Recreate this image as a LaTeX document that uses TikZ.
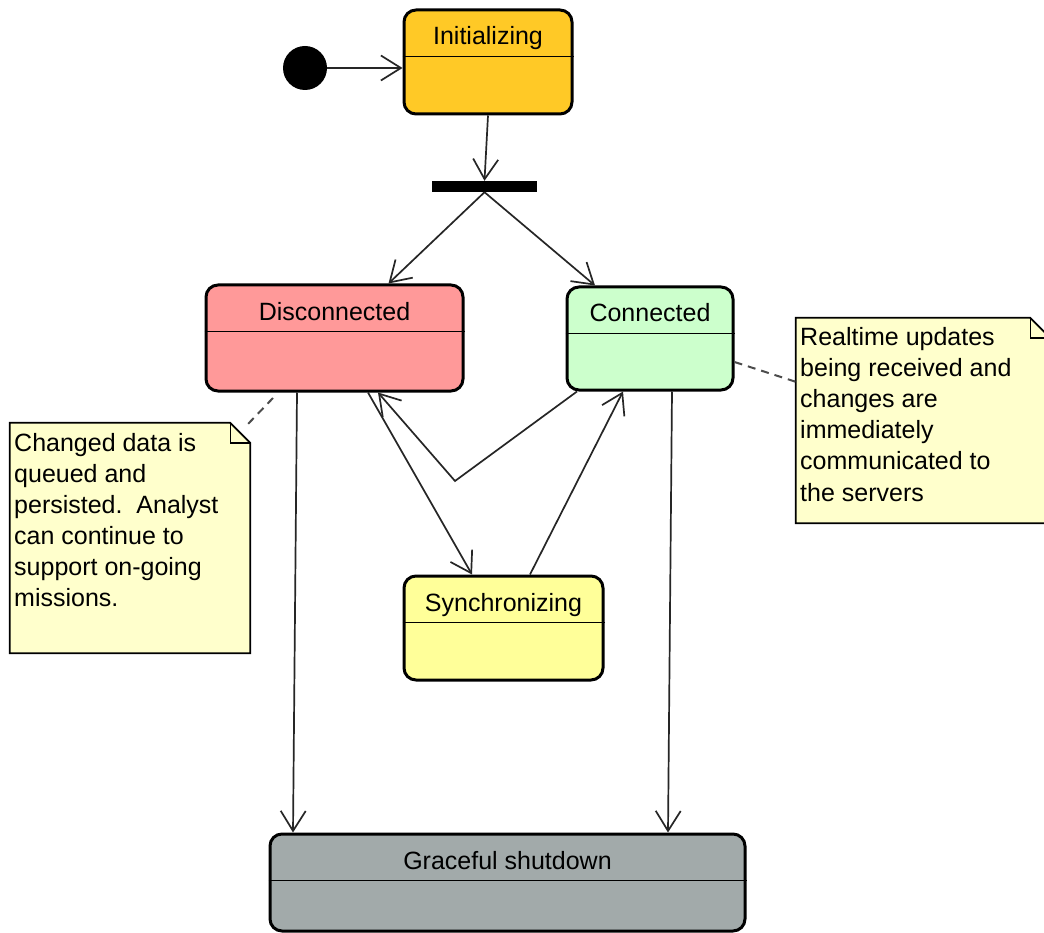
\documentclass[tikz,border=0pt]{standalone}
\usepackage{fontspec}
\setmainfont{Liberation Sans}
\usetikzlibrary{arrows.meta}
\definecolor{initc}{RGB}{255,201,38}
\definecolor{discc}{RGB}{255,153,153}
\definecolor{connc}{RGB}{204,255,204}
\definecolor{syncc}{RGB}{255,255,153}
\definecolor{gracec}{RGB}{162,170,170}
\definecolor{notec}{RGB}{255,255,204}
\begin{document}
\begin{tikzpicture}[x=1pt,y=-1pt,
  state/.style={draw=black, line width=3pt, rounded corners=12pt, inner sep=0pt},
  divider/.style={draw=black, line width=1.5pt},
  title/.style={anchor=base, inner sep=0pt, font=\fontsize{25}{31}\selectfont},
  tr/.style={draw=black!85, line width=1.7pt, -{Straight Barb[length=20pt,width=25pt]}},
  notebox/.style={draw=black, line width=1.7pt, fill=notec},
  notetext/.style={anchor=base west, inner sep=0pt, font=\fontsize{25}{31}\selectfont},
  link/.style={draw=black!70, line width=2pt, dash pattern=on 8pt off 6pt}]
\useasboundingbox[fill=white] (0,0) rectangle (1044,933);

% states
\node[state, fill=initc, minimum width=168pt, minimum height=104pt] (init) at (488,62) {};
\node[state, fill=discc, minimum width=257pt, minimum height=106pt] (disc) at (334.5,338) {};
\node[state, fill=connc, minimum width=166pt, minimum height=103pt] (conn) at (650,338.5) {};
\node[state, fill=syncc, minimum width=199pt, minimum height=104pt] (sync) at (503.5,628) {};
\node[state, fill=gracec, minimum width=475pt, minimum height=97pt] (grace) at (507.5,882.5) {};

\foreach \n in {init,disc,conn,sync,grace}
  \draw[divider] ([yshift=-48pt]\n.north west) -- ([yshift=-48pt]\n.north east);

\node[title] (initT) at ([yshift=-36.5pt]init.north) {Initializing};
\node[title] (discT) at ([yshift=-36.5pt]disc.north) {Disconnected};
\node[title] (connT) at ([yshift=-36.5pt]conn.north) {Connected};
\node[title] (syncT) at ([yshift=-36.5pt]sync.north) {Synchronizing};
\node[title] (graceT) at ([yshift=-36.5pt]grace.north) {Graceful shutdown};

% pseudo states
\node[circle, fill=black, minimum size=44pt, inner sep=0pt] (start) at (305,68) {};
\node[fill=black, minimum width=105pt, minimum height=11pt, inner sep=0pt] (fork) at (484.5,186.5) {};

% transitions
\draw[tr] (start.east) -- (start.east -| init.west);
\draw[tr] (init.south) -- (fork.north);
\draw[tr] (fork.south) -- ([xshift=54pt]disc.north);
\draw[tr] (fork.south) -- ([xshift=-55pt]conn.north);
\draw[tr] ([xshift=-37.5pt]disc.south) -- ([xshift=-214.5pt]grace.north);
\draw[tr] ([xshift=22pt]conn.south) -- ([xshift=160.5pt]grace.north);
\draw[tr] ([xshift=33.5pt]disc.south) -- ([xshift=-31.5pt]sync.north);
\draw[tr] ([xshift=26.5pt]sync.north) -- ([xshift=-27pt]conn.south);
\coordinate (bend) at (455,481);
\draw[tr] ([xshift=-73pt]conn.south) -- (bend) -- ([xshift=43.5pt]disc.south);

% notes
\node[minimum width=240pt, minimum height=230pt, inner sep=0pt] (noteL) at (130,538) {};
\path[notebox] (noteL.north west) -- ([xshift=-20pt]noteL.north east) -- ([yshift=-20pt]noteL.north east) -- (noteL.south east) -- (noteL.south west) -- cycle;
\draw[line width=1.4pt] ([xshift=-20pt]noteL.north east) -- ([xshift=-20pt,yshift=-20pt]noteL.north east) -- ([yshift=-20pt]noteL.north east);

\node[minimum width=254pt, minimum height=205pt, inner sep=0pt] (noteR) at (923,420.5) {};
\path[notebox] (noteR.north west) -- ([xshift=-20pt]noteR.north east) -- ([yshift=-20pt]noteR.north east) -- (noteR.south east) -- (noteR.south west) -- cycle;
\draw[line width=1.4pt] ([xshift=-20pt]noteR.north east) -- ([xshift=-20pt,yshift=-20pt]noteR.north east) -- ([yshift=-20pt]noteR.north east);

\foreach \t [count=\i] in {Changed data is, queued and, persisted.\ \ Analyst, can continue to, support on-going, missions.}
  \node[notetext] (nl\i) at (14,{451+31*(\i-1)}) {\t};
\foreach \t [count=\i] in {Realtime updates, being received and, changes are, immediately, communicated to, the servers}
  \node[notetext] (nr\i) at (800,{345+31.2*(\i-1)}) {\t};

% note links
\coordinate (dl) at (273,398);
\draw[link] ([xshift=-2pt,yshift=-1pt]noteL.north east) -- (dl);
\draw[link] ([yshift=-23.5pt]conn.east) -- ([yshift=-64pt]noteR.north west);
\end{tikzpicture}
\end{document}
